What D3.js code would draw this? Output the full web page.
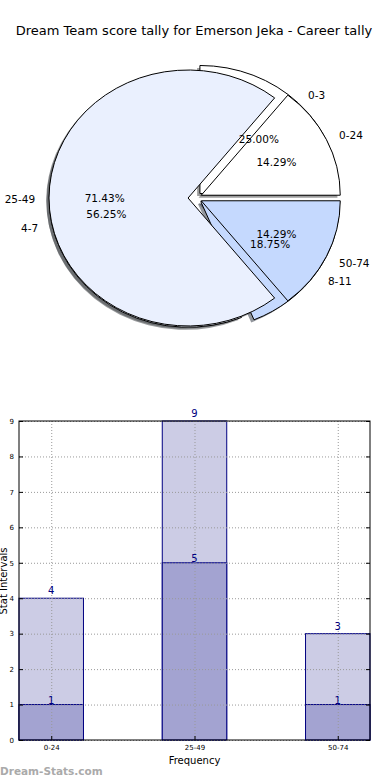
<!DOCTYPE html>
<html>
<head>
<meta charset="utf-8">
<script src="https://cdn.jsdelivr.net/npm/d3@7/dist/d3.min.js"></script>
<style>
  html, body { margin: 0; padding: 0; background: #fff; }
  svg { display: block; font-family: "DejaVu Sans", sans-serif; }
</style>
</head>
<body>
<svg id="chart" width="390" height="780"></svg>
<script>
// ---- data ----
const title = "Dream Team score tally for Emerson Jeka - Career tally";
const outerCategories = ["0-24", "25-49", "50-74"];
const outerValues = [1, 5, 1];
const innerCategories = ["0-3", "4-7", "8-11"];
const innerValues = [4, 9, 3];
const barCategories = ["0-24", "25-49", "50-74"];
const barTotals = [4, 9, 3];
const barLower = [1, 5, 1];
const yTicks = [0, 1, 2, 3, 4, 5, 6, 7, 8, 9];
const sliceColors = ["#ffffff", "#eaf0fe", "#c5d9fe"];

(function () {
const svg = d3.select("#chart");

// title
svg.append("text").attr("x", 194).attr("y", 30)
  .attr("text-anchor", "middle").attr("dominant-baseline", "central")
  .attr("font-size", 13).attr("fill", "#000").text(title);

// ---- pie ----
const cx = 195, cy = 198, rx = 139, ry = 128, explode = 0.05;
const pie = d3.pie().sort(null).startAngle(Math.PI / 2).endAngle(Math.PI / 2 - 2 * Math.PI);
const arc = d3.arc().innerRadius(0).outerRadius(1);
const outerArcs = pie(outerValues);
const innerArcs = pie(innerValues);

function mid(d) { return (d.startAngle + d.endAngle) / 2; }
function offset(d) {
  const m = mid(d);
  return [cx + explode * rx * Math.sin(m), cy - explode * ry * Math.cos(m)];
}
function darker(c) {
  const k = d3.rgb(c);
  return d3.rgb(k.r * 0.3, k.g * 0.3, k.b * 0.3).toString();
}

const pieG = svg.append("g");
// shadows
[innerArcs, outerArcs].forEach(arcs => {
  pieG.append("g").selectAll("path").data(arcs).join("path")
    .attr("d", arc)
    .attr("transform", d => { const o = offset(d); return `translate(${o[0] - 0.02 * rx},${o[1] + 0.02 * ry}) scale(${rx},${ry})`; })
    .attr("fill", (d, i) => darker(sliceColors[i]))
    .attr("opacity", 0.55);
});
// wedges
[innerArcs, outerArcs].forEach(arcs => {
  pieG.append("g").selectAll("path").data(arcs).join("path")
    .attr("d", arc)
    .attr("transform", d => { const o = offset(d); return `translate(${o[0]},${o[1]}) scale(${rx},${ry})`; })
    .attr("fill", (d, i) => sliceColors[i])
    .attr("stroke", "#000").attr("stroke-width", 1)
    .attr("vector-effect", "non-scaling-stroke")
    .attr("stroke-linejoin", "miter");
});
// labels
function addLabels(arcs, cats, vals) {
  const total = d3.sum(vals);
  arcs.forEach((d, i) => {
    const m = mid(d), o = offset(d);
    const s = Math.sin(m), c = Math.cos(m);
    pieG.append("text")
      .attr("x", o[0] + 1.1 * rx * s).attr("y", o[1] - 1.1 * ry * c + 1)
      .attr("text-anchor", s >= 0 ? "start" : "end")
      .attr("dominant-baseline", "central")
      .attr("font-size", 10.5).text(cats[i]);
    pieG.append("text")
      .attr("x", o[0] + 0.6 * rx * s).attr("y", o[1] - 0.6 * ry * c)
      .attr("text-anchor", "middle").attr("dominant-baseline", "central")
      .attr("font-size", 10.5).text((vals[i] / total * 100).toFixed(2) + "%");
  });
}
addLabels(innerArcs, innerCategories, innerValues);
addLabels(outerArcs, outerCategories, outerValues);

// ---- bar chart ----
const pl = 19, pr = 370, pt = 421, pb = 740;
const x = d3.scaleLinear().domain([-0.225, 2.225]).range([pl, pr]);
const y = d3.scaleLinear().domain([0, 9]).range([pb, pt]);
const bw = 0.45;
const navy = "#000080";
const bg = svg.append("g");

bg.selectAll("rect.tot").data(barTotals).join("rect").attr("class", "tot")
  .attr("x", (d, i) => x(i - bw / 2)).attr("width", x(bw) - x(0))
  .attr("y", d => y(d)).attr("height", d => y(0) - y(d))
  .attr("fill", "#ccccE5").attr("stroke", navy).attr("stroke-width", 1);
bg.selectAll("rect.low").data(barLower).join("rect").attr("class", "low")
  .attr("x", (d, i) => x(i - bw / 2)).attr("width", x(bw) - x(0))
  .attr("y", d => y(d)).attr("height", d => y(0) - y(d))
  .attr("fill", "#a3a3d1").attr("stroke", navy).attr("stroke-width", 1);

// grid
bg.append("g").selectAll("line").data(yTicks).join("line")
  .attr("x1", pl).attr("x2", pr).attr("y1", d => y(d) + 0.5).attr("y2", d => y(d) + 0.5)
  .attr("stroke", "#999").attr("stroke-dasharray", "1,2").attr("stroke-width", 1);
bg.append("g").selectAll("line").data(barCategories).join("line")
  .attr("x1", (d, i) => x(i) + 0.5).attr("x2", (d, i) => x(i) + 0.5).attr("y1", pt).attr("y2", pb)
  .attr("stroke", "#999").attr("stroke-dasharray", "1,2").attr("stroke-width", 1);

// value labels
bg.selectAll("text.tv").data(barTotals).join("text").attr("class", "tv")
  .attr("x", (d, i) => x(i)).attr("y", d => y(d) - 4)
  .attr("text-anchor", "middle").attr("font-size", 10).attr("fill", navy).text(d => d);
bg.selectAll("text.lv").data(barLower).join("text").attr("class", "lv")
  .attr("x", (d, i) => x(i)).attr("y", d => y(d) - 1)
  .attr("text-anchor", "middle").attr("font-size", 10).attr("fill", navy).text(d => d);

// axes
const yAxis = d3.axisLeft(y).tickValues(yTicks).tickSize(-4).tickPadding(5);
const yg = bg.append("g").attr("transform", `translate(${pl},0)`).call(yAxis);
yg.select(".domain").remove();
yg.selectAll("text").attr("font-size", 7).attr("font-family", "DejaVu Sans");
const yAxisR = d3.axisRight(y).tickValues(yTicks).tickSize(-4).tickFormat("");
const ygr = bg.append("g").attr("transform", `translate(${pr},0)`).call(yAxisR);
ygr.select(".domain").remove();

const xAxis = d3.axisBottom(x).tickValues([0, 1, 2]).tickFormat((d) => barCategories[d]).tickSize(-4).tickPadding(5);
const xg = bg.append("g").attr("transform", `translate(0,${pb})`).call(xAxis);
xg.select(".domain").remove();
xg.selectAll("text").attr("font-size", 7).attr("font-family", "DejaVu Sans");

bg.append("rect").attr("x", pl).attr("y", pt).attr("width", pr - pl).attr("height", pb - pt)
  .attr("fill", "none").attr("stroke", "#000").attr("stroke-width", 1);

bg.append("text").attr("x", (pl + pr) / 2).attr("y", 764)
  .attr("text-anchor", "middle").attr("font-size", 10).text("Frequency");
bg.append("text").attr("transform", "translate(7,581) rotate(-90)")
  .attr("text-anchor", "middle").attr("font-size", 10).text("Stat Intervals");

svg.append("text").attr("x", 0).attr("y", 775)
  .attr("font-size", 10.5).attr("font-weight", "bold").attr("fill", "#aaaaaa")
  .attr("font-family", "DejaVu Sans").text("Dream-Stats.com");
})();
</script>
</body>
</html>
